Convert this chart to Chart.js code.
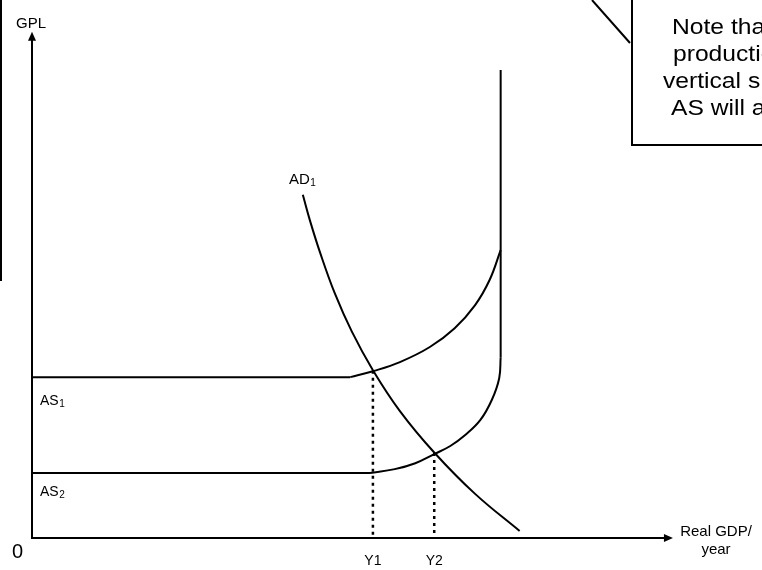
<!DOCTYPE html>
<html>
<head>
<meta charset="utf-8">
<title>AS / AD</title>
<script src="https://cdn.jsdelivr.net/npm/chart.js@4.4.1/dist/chart.umd.min.js"></script>
<style>
    html, body { margin: 0; padding: 0; background: #fff; }
    #chartBox { width: 762px; height: 570px; }
</style>
</head>
<body>
<div id="chartBox"><canvas id="asadChart" width="762" height="570"></canvas></div>
<script>
// Readings, both axes in units of 0-100
const as1Gdp = [0, 43.6, 46.7, 50.4, 54.5, 57.9, 60.7, 62.7, 64.2];
const as1Gpl = [29.9, 29.9, 31.0, 32.7, 35.5, 39.0, 43.3, 48.0, 53.5];

const as2Gdp = [0, 46.3, 49.7, 52.5, 55.1, 57.3, 59.3, 61.4, 63.0, 64.0, 64.2];
const as2Gpl = [12.1, 12.1, 12.8, 13.9, 15.6, 17.1, 19.1, 21.9, 25.7, 29.7, 33.6];

// vertical (full capacity) section shared by both AS curves
const capacityGdp = [64.2, 64.2];
const capacityGpl = [87.0, 33.6];

const ad1Gdp = [37.1, 38.1, 39.5, 41.5, 43.8, 46.7, 50.4, 55.1, 60.7, 66.8];
const ad1Gpl = [63.8, 58.9, 52.9, 45.4, 38.4, 31.2, 23.6, 15.9, 8.2, 1.3];

// equilibrium output levels
const eqLabels = ["Y1", "Y2"];
const eqGdp = [46.7, 55.1];
const eqGpl = [31.1, 15.8];

const axisEndGdp = 87.8;
const axisEndGpl = 94.1;

const calloutLines = ["Note that", "production", "vertical s", "AS will a"];

function toPoints(xs, ys) {
    return xs.map((v, i) => ({ x: v, y: ys[i] }));
}

function lineSet(label, xs, ys, extra) {
    return Object.assign({
        label: label,
        data: toPoints(xs, ys),
        showLine: true,
        borderColor: "#000",
        borderWidth: 2,
        pointRadius: 0,
        tension: 0,
        fill: false,
        clip: false
    }, extra || {});
}

const datasets = [
    // flat part of each AS curve, then the bending part
    lineSet("AS1 flat", as1Gdp.slice(0, 2), as1Gpl.slice(0, 2)),
    lineSet("AS1", as1Gdp.slice(1), as1Gpl.slice(1), { tension: 0.4 }),
    lineSet("AS2 flat", as2Gdp.slice(0, 2), as2Gpl.slice(0, 2)),
    lineSet("AS2", as2Gdp.slice(1), as2Gpl.slice(1), { tension: 0.4 }),
    lineSet("capacity", capacityGdp, capacityGpl),
    lineSet("AD1", ad1Gdp, ad1Gpl, { tension: 0.4 })
];

// dotted drop lines down to the x axis
eqGdp.forEach((g, i) => {
    datasets.push(lineSet(eqLabels[i], [g, g], [eqGpl[i], 0], {
        borderDash: [3, 4],
        borderWidth: 2.5
    }));
});

function labelWithSub(ctx, main, sub, x, y, size) {
    ctx.font = size + "px 'Liberation Sans', Arial, sans-serif";
    ctx.textAlign = "left";
    ctx.fillText(main, x, y);
    const w = ctx.measureText(main).width;
    ctx.font = Math.round(size * 0.68) + "px 'Liberation Sans', Arial, sans-serif";
    ctx.fillText(sub, x + w + 0.5, y + 2);
}

const diagramExtras = {
    id: "diagramExtras",
    afterDatasetsDraw(chart) {
        const ctx = chart.ctx;
        const xs = chart.scales.x;
        const ys = chart.scales.y;
        const ox = xs.getPixelForValue(0);
        const oy = ys.getPixelForValue(0);
        const topY = ys.getPixelForValue(axisEndGpl);
        const rightX = xs.getPixelForValue(axisEndGdp);

        ctx.save();
        ctx.strokeStyle = "#000";
        ctx.fillStyle = "#000";
        ctx.lineWidth = 2;

        // axes
        ctx.beginPath();
        ctx.moveTo(ox, oy);
        ctx.lineTo(ox, topY + 6);
        ctx.moveTo(ox - 1, oy);
        ctx.lineTo(rightX - 6, oy);
        ctx.stroke();

        // arrow heads
        ctx.beginPath();
        ctx.moveTo(ox, topY);
        ctx.lineTo(ox - 4, topY + 9);
        ctx.lineTo(ox + 4, topY + 9);
        ctx.closePath();
        ctx.moveTo(rightX, oy);
        ctx.lineTo(rightX - 9, oy - 4);
        ctx.lineTo(rightX - 9, oy + 4);
        ctx.closePath();
        ctx.fill();

        // left border fragment and callout box
        ctx.beginPath();
        ctx.moveTo(1, 0);
        ctx.lineTo(1, 281);
        ctx.moveTo(632, 0);
        ctx.lineTo(632, 145);
        ctx.lineTo(762, 145);
        ctx.moveTo(592, 0);
        ctx.lineTo(630, 43);
        ctx.stroke();

        // callout text is a little wider than plain Arial
        ctx.save();
        ctx.scale(1.12, 1);
        ctx.font = "22px 'Liberation Sans', Arial, sans-serif";
        ctx.textAlign = "left";
        ctx.textBaseline = "alphabetic";
        const calloutX = [672, 673, 663, 671];
        calloutLines.forEach((t, i) => {
            ctx.fillText(t, calloutX[i] / 1.12, 34 + i * 27);
        });
        ctx.restore();

        // axis titles
        ctx.font = "15px 'Liberation Sans', Arial, sans-serif";
        ctx.textAlign = "left";
        ctx.fillText("GPL", 16, 28);
        ctx.textAlign = "center";
        ctx.fillText("Real GDP/", 716, 536);
        ctx.fillText("year", 716, 554);
        ctx.textAlign = "left";
        ctx.font = "20px 'Liberation Sans', Arial, sans-serif";
        ctx.fillText("0", 12, 558);

        // curve labels
        labelWithSub(ctx, "AS", "1", 40, 405, 14);
        labelWithSub(ctx, "AS", "2", 40, 496, 14);
        labelWithSub(ctx, "AD", "1", 289, 184, 15);

        // output labels under the dotted lines
        ctx.font = "14px 'Liberation Sans', Arial, sans-serif";
        ctx.textAlign = "center";
        eqGdp.forEach((g, i) => {
            ctx.fillText(eqLabels[i], xs.getPixelForValue(g), 565);
        });

        ctx.restore();
    }
};

new Chart(document.getElementById("asadChart").getContext("2d"), {
    type: "scatter",
    data: { datasets: datasets },
    options: {
        responsive: false,
        animation: false,
        events: [],
        layout: { padding: { left: 32, right: 0, top: 0, bottom: 32 } },
        plugins: { legend: { display: false }, tooltip: { enabled: false } },
        scales: {
            x: { type: "linear", min: 0, max: 100, display: false },
            y: { type: "linear", min: 0, max: 100, display: false }
        }
    },
    plugins: [diagramExtras]
});
</script>
</body>
</html>
